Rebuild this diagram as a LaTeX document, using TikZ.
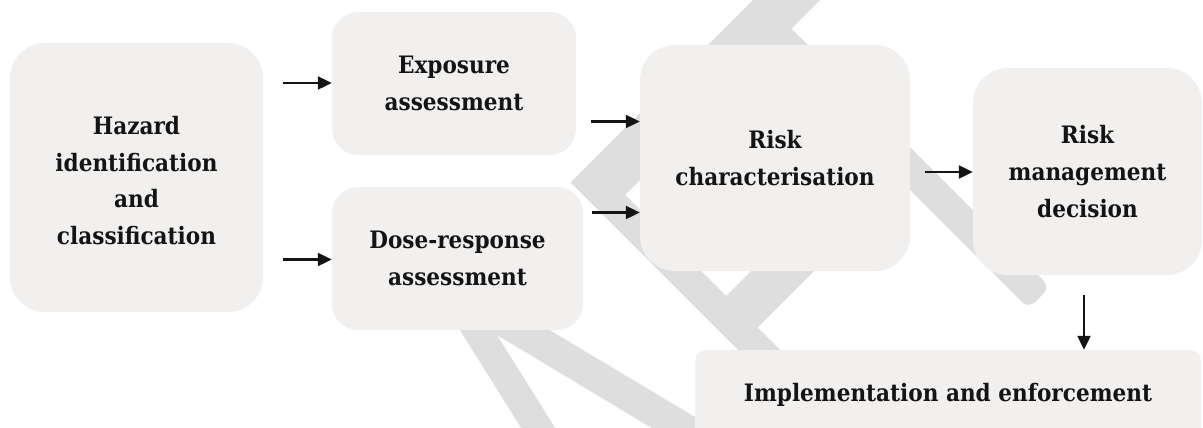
\documentclass[tikz,border=0pt]{standalone}
\usepackage{fontspec}
\setmainfont{DejaVu Serif}[FakeStretch=0.9]
\usetikzlibrary{arrows.meta,calc}
\definecolor{boxfill}{RGB}{241,240,239}
\definecolor{wmgrey}{RGB}{222,222,222}
\definecolor{ink}{RGB}{20,20,20}
\begin{document}
\begin{tikzpicture}[x=1pt,y=-1pt,
  box/.style={fill=boxfill, draw=none, align=center, inner sep=0pt,
    text=ink, font=\bfseries\fontsize{24}{36.6}\selectfont},
  wm/.style={fill=wmgrey},
  arr/.style={draw=ink, line width=2.2pt, -{Triangle[length=14pt,width=13pt]}}]
\useasboundingbox (0,0) rectangle (1203,428);
\clip (0,0) rectangle (1203,428);
% watermark
\fill[wm, rounded corners=2pt] (773,-20) -- (570.5,182.5) -- (788,400) -- (830,400) -- (625,195) -- (840,-20) -- cycle;
\fill[wm] (759.3,39.2) -- (780.7,17.8) [rounded corners=9pt] -- (1050,287) -- (1028.5,308.5) [sharp corners] -- cycle;
\fill[wm] (873.5,148.5) -- (905,180) -- (757.5,327.5) -- (705,317) -- cycle;
\fill[wm] (406,244) -- (535,450) -- (569,450) -- (497,335) -- (720,469) -- (720,432) -- cycle;
% boxes
\node[box, rounded corners=35pt, minimum width=253pt, minimum height=269pt] (haz) at (136.5,177.5)
  {\rule{0pt}{24pt}Hazard\\identification\\and\\classification};
\node[box, rounded corners=26pt, minimum width=244pt, minimum height=143pt] (exp) at (454,83.5)
  {Exposure\\assessment};
\node[box, rounded corners=26pt, minimum width=251pt, minimum height=143pt] (dose) at (457.5,258.5)
  {Dose-response\\assessment};
\node[box, rounded corners=35pt, minimum width=270pt, minimum height=226pt] (risk) at (775,158)
  {Risk\\characterisation};
\node[box, rounded corners=35pt, minimum width=229pt, minimum height=207pt] (mgmt) at (1087.5,171.5)
  {Risk\\management\\decision};
\node[box, rounded corners=11pt, minimum width=506pt, minimum height=90pt] (impl) at (948,395)
  {Implementation and enforcement};
% connectors
\coordinate (h1) at ($(haz.east)+(20,-94.5)$);
\draw[arr] (h1) -- (h1 -| exp.west);
\coordinate (h2) at ($(haz.east)+(20,82)$);
\draw[arr] (h2) -- (h2 -| dose.west);
\coordinate (e1) at ($(exp.east)+(15,38)$);
\draw[arr] (e1) -- (e1 -| risk.west);
\coordinate (d1) at ($(dose.east)+(9,-46)$);
\draw[arr] (d1) -- (d1 -| risk.west);
\coordinate (r1) at ($(risk.east)+(15,14)$);
\draw[arr] (r1) -- (r1 -| mgmt.west);
\coordinate (m1) at ($(mgmt.south)+(-3.5,20)$);
\draw[arr] (m1) -- (m1 |- impl.north);
\end{tikzpicture}
\end{document}
